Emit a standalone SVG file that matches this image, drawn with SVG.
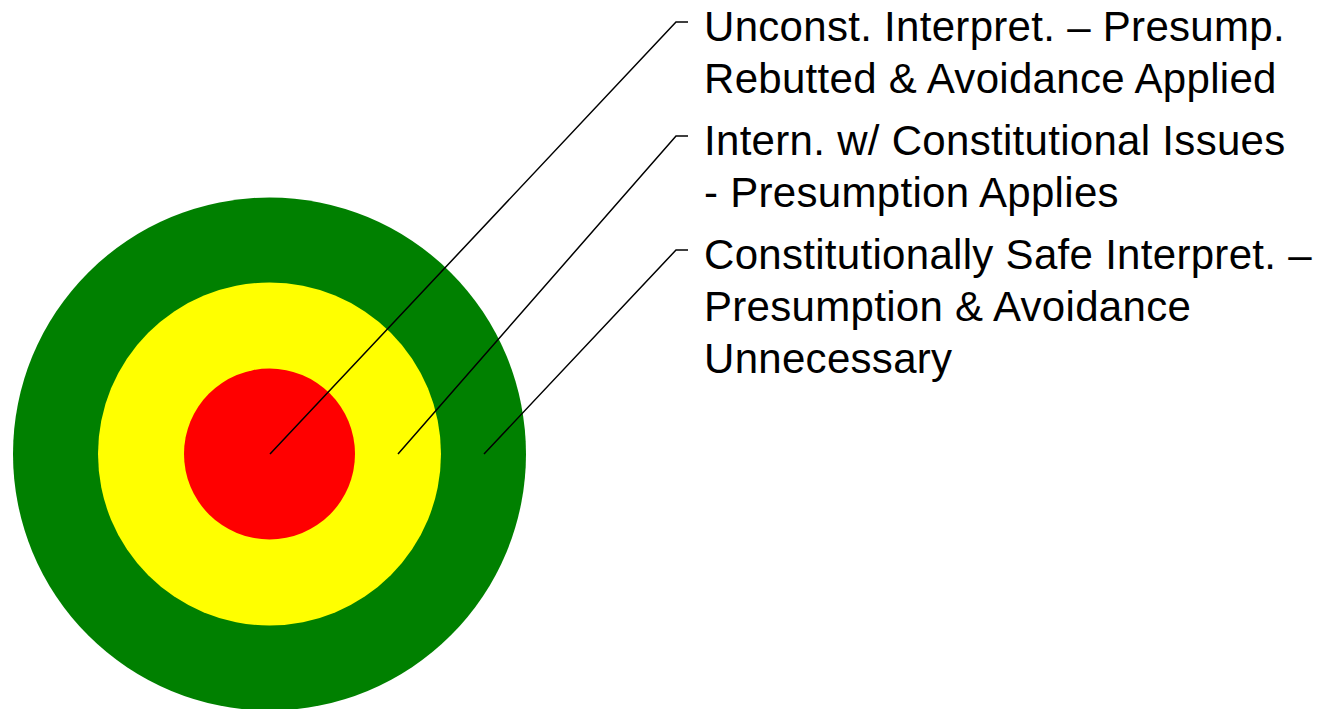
<svg xmlns="http://www.w3.org/2000/svg" width="1318" height="709" viewBox="0 0 1318 709">
  <style>
    .label { font-family: "Liberation Sans", Arial, sans-serif; font-size: 42px; letter-spacing: 0.3px; fill: #000; }
    .leader { fill: none; stroke: #000; stroke-width: 1.5; }
  </style>
  <rect width="1318" height="709" fill="#fff"/>

  <!-- Target rings -->
  <g id="ring-outer"><circle cx="269.5" cy="454" r="256.5" fill="#008000"/></g>
  <g id="ring-middle"><circle cx="269.5" cy="454" r="171.5" fill="#ffff00"/></g>
  <g id="ring-inner"><circle cx="269.5" cy="454" r="85.5" fill="#ff0000"/></g>

  <!-- Leader lines from each ring to its label -->
  <g id="connectors">
    <polyline class="leader" points="270,454 676,22 688,22"/>
    <polyline class="leader" points="398,454 676,136 688,136"/>
    <polyline class="leader" points="484,454 676,250 688,250"/>
  </g>

  <g id="label-inner">
    <text class="label" x="704" y="41">Unconst. Interpret. – Presump.</text>
    <text class="label" x="704" y="93">Rebutted &amp; Avoidance Applied</text>
  </g>
  <g id="label-middle">
    <text class="label" x="704" y="155">Intern. w/ Constitutional Issues</text>
    <text class="label" x="704" y="207">- Presumption Applies</text>
  </g>
  <g id="label-outer">
    <text class="label" x="704" y="269">Constitutionally Safe Interpret. –</text>
    <text class="label" x="704" y="321">Presumption &amp; Avoidance</text>
    <text class="label" x="704" y="373">Unnecessary</text>
  </g>
</svg>
